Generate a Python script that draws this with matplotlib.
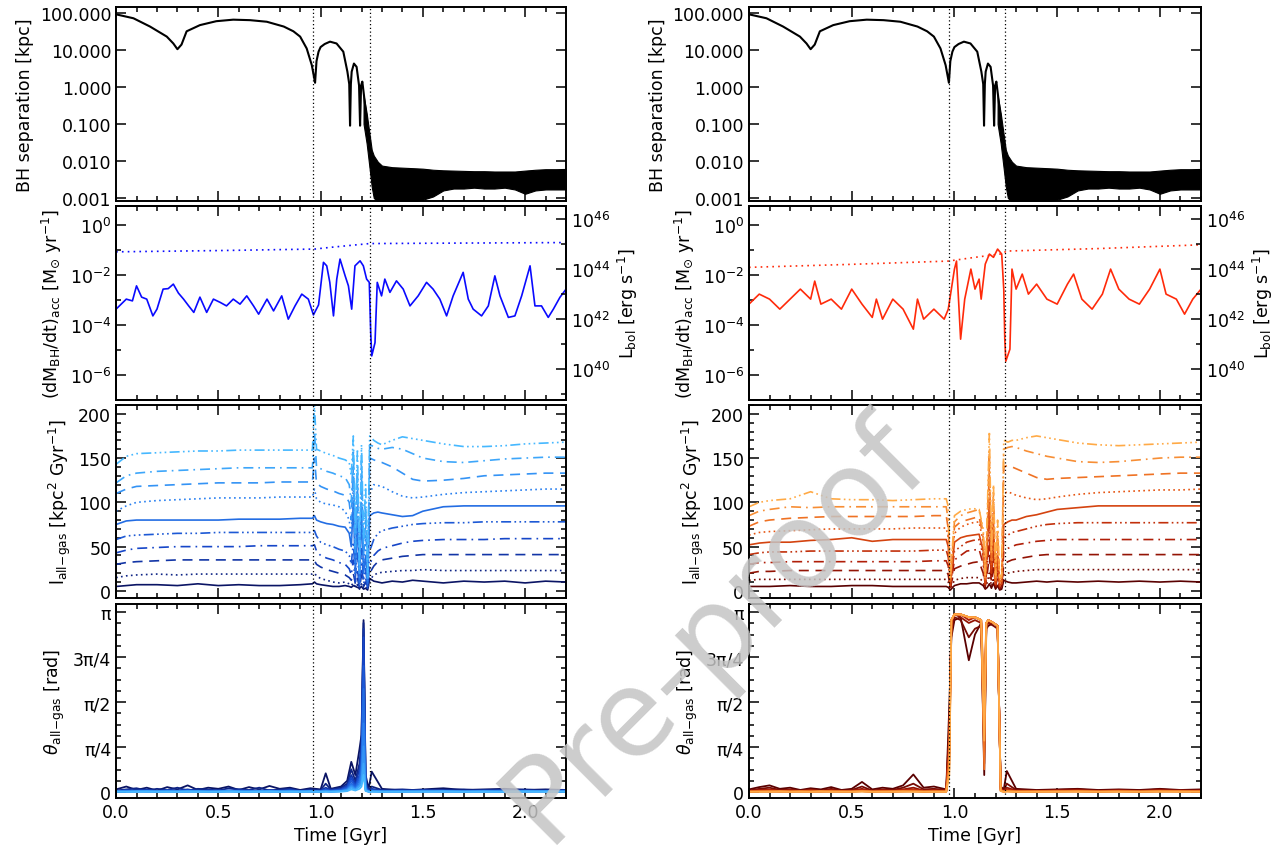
import numpy as np
import matplotlib.pyplot as plt
from matplotlib.colors import LinearSegmentedColormap
from matplotlib.ticker import MultipleLocator, FixedLocator, NullFormatter, LogLocator

plt.rcParams['font.family'] = ['DejaVu Sans']
plt.rcParams['mathtext.fontset'] = 'dejavusans'
plt.rcParams['font.size'] = 12.5
plt.rcParams['axes.linewidth'] = 1.4

# ---------------- data ----------------
# BH separation [kpc]
t_sep = [0.0, 0.085, 0.166, 0.248, 0.28, 0.3, 0.32, 0.345, 0.41, 0.49, 0.573, 0.655, 0.737,
         0.82, 0.867, 0.9, 0.932, 0.957, 0.973, 0.98, 0.99, 1.0, 1.02, 1.046, 1.078, 1.111,
         1.131, 1.14, 1.144, 1.148, 1.152, 1.163, 1.176, 1.188, 1.193, 1.198, 1.204, 1.212, 1.225]
sep = [92, 72, 43, 23, 15, 10.5, 14, 32, 47, 60, 66, 64, 58,
       43, 32, 23, 11, 3.9, 1.3, 5, 9, 12, 14.5, 16.8, 15, 9,
       2.6, 1.2, 0.09, 1.2, 2.6, 4.3, 3.5, 1.1, 0.09, 1.1, 1.4, 0.6, 0.14]
# envelope of the unresolved binary orbit after the merger
t_band = [1.21, 1.225, 1.24, 1.25, 1.26, 1.28, 1.3, 1.35, 1.4, 1.45, 1.5, 1.55, 1.6, 1.65,
          1.7, 1.75, 1.8, 1.85, 1.9, 1.95, 2.0, 2.05, 2.1, 2.15, 2.2]
band_hi = [0.6, 0.2, 0.05, 0.02, 0.014, 0.0095, 0.0075, 0.0068, 0.0066, 0.0064, 0.0062, 0.0058,
           0.0056, 0.0055, 0.0054, 0.0053, 0.0053, 0.0052, 0.0052, 0.0052, 0.0055, 0.0058,
           0.0060, 0.0060, 0.0061]
band_lo = [0.1, 0.03, 0.006, 0.002, 0.001, 0.0008, 0.0008, 0.0008, 0.0008, 0.0008, 0.0009,
           0.0011, 0.0016, 0.0018, 0.0018, 0.0019, 0.0018, 0.0018, 0.0019, 0.0017, 0.0013,
           0.0016, 0.0017, 0.0017, 0.0017]

# accretion rate, log10 [Msun/yr]
t_acc_left = [0.0, 0.02, 0.05, 0.08, 0.1, 0.125, 0.15, 0.18, 0.2, 0.23,
              0.255, 0.28, 0.305, 0.33, 0.355, 0.38, 0.41, 0.443, 0.476, 0.509,
              0.54, 0.573, 0.606, 0.639, 0.672, 0.697, 0.738, 0.77, 0.81, 0.842,
              0.875, 0.908, 0.94, 0.965, 0.99, 1.014, 1.03, 1.045, 1.063, 1.079,
              1.095, 1.12, 1.136, 1.152, 1.168, 1.193, 1.209, 1.225, 1.238, 1.245,
              1.25, 1.266, 1.277, 1.298, 1.314, 1.339, 1.371, 1.404, 1.437, 1.477,
              1.518, 1.55, 1.583, 1.616, 1.648, 1.697, 1.722, 1.746, 1.787, 1.82,
              1.852, 1.877, 1.918, 1.95, 1.983, 2.024, 2.048, 2.08, 2.113, 2.138,
              2.17, 2.2]
mdot_left = [-3.37, -3.21, -2.97, -3.04, -2.44, -2.89, -2.97, -3.64, -3.37, -2.57,
             -2.55, -2.37, -2.73, -2.97, -3.24, -3.5, -2.89, -3.5, -2.97, -3.1,
             -3.24, -2.97, -3.17, -2.84, -3.24, -3.57, -2.97, -3.44, -2.84, -3.77,
             -3.24, -2.77, -2.97, -3.6, -3.2, -1.5, -1.64, -2.3, -3.64, -2.17,
             -1.37, -2.04, -2.44, -3.37, -1.64, -1.44, -1.64, -2.17, -2.3, -4.3,
             -5.24, -4.71, -2.3, -2.84, -2.17, -2.7, -2.24, -2.57, -3.24, -2.84,
             -2.3, -2.57, -2.97, -3.64, -2.84, -1.9, -2.97, -3.37, -3.64, -3.24,
             -2.04, -2.84, -3.7, -3.64, -2.84, -1.64, -3.24, -3.24, -3.7, -3.37,
             -2.9, -2.57]
t_acc_right = [0.0, 0.05, 0.1, 0.15, 0.2, 0.25, 0.3, 0.32, 0.35, 0.4,
               0.45, 0.5, 0.55, 0.6, 0.62, 0.65, 0.7, 0.75, 0.8, 0.82,
               0.85, 0.9, 0.95, 0.97, 1.0, 1.01, 1.03, 1.05, 1.08, 1.1,
               1.12, 1.13, 1.15, 1.17, 1.19, 1.21, 1.23, 1.24, 1.245, 1.25,
               1.27, 1.28, 1.3, 1.33, 1.36, 1.4, 1.45, 1.5, 1.55, 1.58,
               1.62, 1.67, 1.72, 1.76, 1.8, 1.85, 1.9, 1.95, 2.0, 2.03,
               2.08, 2.12, 2.16, 2.2]
mdot_right = [-3.17, -2.77, -2.97, -3.37, -2.97, -2.57, -2.97, -2.25, -3.17, -2.97,
              -3.37, -2.57, -3.17, -3.7, -2.97, -3.77, -2.97, -3.37, -4.17, -2.97,
              -3.77, -3.37, -3.77, -3.37, -1.77, -1.45, -4.57, -2.97, -1.77, -2.57,
              -2.17, -2.97, -1.57, -1.17, -1.3, -0.97, -1.17, -2.57, -4.57, -5.45,
              -4.97, -1.77, -2.57, -1.97, -2.77, -2.37, -2.97, -3.17, -2.37, -1.97,
              -2.97, -3.37, -2.77, -1.77, -2.57, -2.97, -3.17, -2.57, -1.77, -2.77,
              -2.97, -3.57, -2.97, -2.57]
# Eddington rate, log10 [Msun/yr]
t_edd_left = [0.0, 0.5, 0.97, 1.05, 1.15, 1.24, 1.7, 2.2]
edd_left = [-1.08, -1.03, -0.97, -0.9, -0.82, -0.75, -0.73, -0.71]
t_edd_right = [0.0, 0.5, 0.97, 1.1, 1.24, 1.25, 1.7, 2.2]
edd_right = [-1.7, -1.58, -1.45, -1.3, -1.15, -1.05, -0.95, -0.8]

# specific angular momentum of gas (10 shells) [kpc^2/Gyr]
t_am = [0.0, 0.05, 0.1, 0.2, 0.3, 0.4, 0.5, 0.6, 0.7, 0.8, 0.9,
        0.96, 0.97, 0.98, 1.0, 1.03, 1.06, 1.09, 1.12, 1.14,
        1.15, 1.16, 1.17, 1.18, 1.19, 1.2, 1.21, 1.22, 1.23, 1.24, 1.26, 1.28,
        1.3, 1.35, 1.4, 1.45, 1.5, 1.6, 1.7, 1.8, 1.9, 2.0, 2.1, 2.2]
am_left = [
    [5, 6, 7, 7, 6, 8, 6, 7, 6, 6, 7, 8, 10, 8, 7, 6, 5, 5, 6, 5,
     4, 6, 5, 4, 3, 5, 2, 3, 1, 14, 11, 10, 9, 11, 10, 12, 11, 9, 11, 10, 11, 9, 11, 10],
    [15, 17, 18, 19, 18, 19, 19, 19, 19, 19, 19, 19, 20, 17, 14, 12, 10, 9, 10, 8,
     6, 9, 4, 7, 2, 8, 3, 5, 2, 12, 18, 20, 21, 22, 23, 23, 24, 23, 23, 23, 23, 23, 23, 23],
    [30, 32, 33, 34, 35, 35, 35, 35, 35, 35, 35, 35, 34, 30, 27, 24, 22, 20, 18, 15,
     12, 20, 8, 15, 3, 18, 5, 10, 2, 20, 28, 33, 35, 37, 39, 40, 41, 41, 41, 41, 41, 41, 41, 41],
    [43, 46, 48, 49, 50, 50, 50, 50, 51, 51, 51, 51, 52, 45, 40, 37, 35, 32, 30, 25,
     18, 35, 10, 25, 5, 30, 8, 15, 3, 30, 40, 45, 48, 51, 54, 56, 57, 58, 58, 58, 59, 59, 59, 59],
    [58, 62, 63, 64, 65, 65, 66, 66, 66, 66, 66, 66, 68, 62, 55, 52, 50, 47, 45, 40,
     30, 55, 15, 45, 8, 50, 12, 25, 5, 45, 58, 65, 68, 71, 73, 75, 76, 77, 77, 78, 78, 78, 78, 78],
    [75, 79, 80, 80, 80, 80, 80, 81, 81, 81, 82, 82, 85, 80, 78, 76, 75, 73, 72, 65,
     50, 100, 20, 80, 10, 90, 20, 40, 8, 85, 88, 89, 88, 86, 84, 85, 90, 95, 96, 96, 96, 96, 96, 96],
    [90, 96, 100, 102, 103, 104, 105, 105, 105, 106, 106, 106, 115, 104, 100, 98, 97, 95, 90, 80,
     60, 120, 30, 100, 15, 110, 30, 60, 10, 110, 120, 119, 118, 112, 107, 105, 106, 109, 111, 112, 113, 114, 115, 115],
    [110, 115, 118, 119, 120, 121, 122, 122, 122, 123, 123, 123, 150, 122, 118, 115, 113, 110, 108, 100,
     80, 140, 40, 120, 20, 130, 40, 80, 10, 150, 148, 146, 145, 140, 133, 126, 124, 125, 127, 130, 131, 132, 133, 133],
    [122, 130, 133, 135, 136, 137, 138, 139, 139, 139, 139, 139, 180, 140, 138, 135, 133, 130, 128, 120,
     100, 160, 50, 140, 25, 150, 50, 100, 15, 165, 163, 161, 160, 162, 160, 155, 150, 146, 145, 147, 149, 150, 151, 151],
    [143, 152, 155, 156, 157, 158, 158, 159, 159, 159, 159, 159, 210, 160, 158, 155, 153, 150, 148, 145,
     130, 175, 70, 160, 30, 165, 60, 120, 20, 175, 170, 167, 165, 170, 174, 172, 170, 166, 163, 163, 164, 166, 167, 168],
]
am_right = [
    [5, 5, 5, 6, 5, 5, 6, 6, 5, 5, 5, 5, 4, 1, 6, 8, 8, 9, 9, 6,
     2, 4, 8, 3, 9, 2, 6, 1, 2, 12, 10, 9, 9, 10, 11, 10, 11, 10, 11, 10, 11, 10, 11, 10],
    [12, 13, 13, 13, 13, 13, 13, 13, 13, 13, 13, 13, 10, 2, 12, 14, 15, 15, 15, 10,
     3, 10, 20, 5, 15, 3, 8, 2, 3, 18, 20, 21, 22, 23, 24, 24, 24, 24, 24, 24, 24, 24, 24, 24],
    [20, 22, 22, 23, 23, 23, 23, 23, 23, 23, 23, 23, 18, 3, 25, 28, 30, 32, 33, 20,
     5, 20, 40, 10, 30, 5, 15, 3, 5, 30, 33, 35, 36, 38, 40, 41, 41, 41, 41, 41, 41, 41, 41, 41],
    [30, 32, 32, 33, 33, 33, 33, 33, 33, 33, 34, 34, 28, 4, 35, 40, 45, 46, 47, 30,
     6, 30, 60, 15, 45, 6, 20, 4, 6, 45, 48, 50, 52, 54, 56, 57, 58, 58, 58, 58, 58, 58, 58, 58],
    [41, 43, 44, 44, 45, 45, 45, 45, 45, 45, 46, 46, 38, 5, 45, 50, 55, 57, 58, 40,
     7, 40, 80, 20, 60, 7, 30, 5, 7, 60, 63, 66, 67, 70, 73, 75, 76, 77, 77, 77, 77, 77, 77, 77],
    [52, 54, 55, 55, 57, 58, 60, 56, 58, 58, 58, 58, 50, 6, 55, 60, 62, 63, 64, 45,
     8, 50, 100, 25, 75, 8, 40, 6, 8, 75, 78, 80, 80, 84, 86, 89, 92, 94, 96, 96, 96, 96, 96, 96],
    [63, 66, 67, 68, 69, 70, 70, 70, 70, 71, 71, 71, 60, 8, 65, 72, 75, 77, 78, 55,
     10, 60, 120, 30, 90, 10, 50, 8, 10, 110, 112, 110, 108, 105, 103, 104, 106, 109, 111, 112, 113, 114, 114, 115],
    [73, 78, 80, 82, 83, 84, 84, 84, 84, 84, 85, 85, 70, 10, 72, 78, 80, 82, 84, 60,
     12, 70, 140, 35, 100, 12, 60, 10, 12, 140, 142, 140, 138, 133, 128, 126, 127, 128, 129, 130, 131, 132, 133, 133],
    [85, 90, 92, 95, 94, 95, 95, 95, 95, 95, 95, 95, 80, 12, 78, 85, 88, 90, 92, 65,
     15, 80, 160, 40, 110, 15, 70, 12, 15, 160, 162, 163, 162, 158, 155, 152, 150, 146, 145, 146, 148, 150, 151, 151],
    [95, 100, 102, 104, 112, 104, 103, 103, 102, 103, 104, 104, 95, 15, 85, 90, 92, 93, 92, 70,
     18, 90, 180, 45, 120, 18, 80, 15, 18, 170, 168, 170, 170, 173, 175, 173, 171, 167, 165, 164, 165, 166, 167, 168],
]

# misalignment angle [rad]
t_th_left = [0.0, 0.05, 0.1, 0.15, 0.2, 0.25, 0.3, 0.35, 0.4, 0.45, 0.5, 0.55, 0.6, 0.65, 0.7,
             0.75, 0.8, 0.85, 0.9, 0.95,
             1.0, 1.025, 1.05, 1.1, 1.13, 1.15, 1.17, 1.19, 1.2, 1.21, 1.22, 1.235, 1.25,
             1.3, 1.4, 1.5, 1.6, 1.7, 1.8, 1.9, 2.0, 2.1, 2.2]
th_left = [
    [0.05, 0.10, 0.04, 0.08, 0.03, 0.09, 0.05, 0.12, 0.04, 0.08, 0.06, 0.10, 0.04, 0.09, 0.05,
     0.11, 0.06, 0.08, 0.04, 0.07, 0.05, 0.33, 0.06, 0.10, 0.20, 0.53, 0.30, 0.75, 1.0, 3.0,
     0.3, 0.06, 0.36, 0.06, 0.03, 0.05, 0.07, 0.04, 0.05, 0.06, 0.04, 0.05, 0.04],
    [0.03, 0.05, 0.07, 0.03, 0.06, 0.04, 0.08, 0.03, 0.06, 0.05, 0.03, 0.07, 0.05, 0.04, 0.08,
     0.03, 0.05, 0.06, 0.03, 0.05, 0.04, 0.15, 0.05, 0.08, 0.15, 0.40, 0.20, 0.50, 0.90, 2.95,
     0.20, 0.04, 0.10, 0.04, 0.05, 0.03, 0.04, 0.05, 0.03, 0.04, 0.05, 0.03, 0.04],
    [0.02, 0.04, 0.03, 0.05, 0.02, 0.04, 0.03, 0.05, 0.02, 0.03, 0.04, 0.02, 0.05, 0.03, 0.02,
     0.04, 0.03, 0.05, 0.02, 0.03, 0.03, 0.08, 0.04, 0.06, 0.12, 0.30, 0.15, 0.40, 0.80, 2.85,
     0.15, 0.03, 0.06, 0.03, 0.02, 0.04, 0.03, 0.02, 0.03, 0.04, 0.02, 0.03, 0.03],
    [0.02, 0.03, 0.02, 0.03, 0.02, 0.03, 0.02, 0.04, 0.02, 0.03, 0.02, 0.03, 0.02, 0.03, 0.02,
     0.03, 0.02, 0.03, 0.02, 0.03, 0.02, 0.05, 0.03, 0.05, 0.10, 0.25, 0.12, 0.30, 0.60, 2.70,
     0.10, 0.02, 0.04, 0.02, 0.03, 0.02, 0.03, 0.02, 0.03, 0.02, 0.03, 0.02, 0.03],
    [0.02, 0.02, 0.03, 0.02, 0.02, 0.03, 0.02, 0.02, 0.03, 0.02, 0.02, 0.03, 0.02, 0.02, 0.03,
     0.02, 0.02, 0.03, 0.02, 0.02, 0.02, 0.04, 0.02, 0.04, 0.08, 0.20, 0.10, 0.25, 0.50, 2.20,
     0.08, 0.02, 0.03, 0.02, 0.02, 0.03, 0.02, 0.02, 0.02, 0.03, 0.02, 0.02, 0.02],
    [0.01, 0.02, 0.01, 0.02, 0.01, 0.02, 0.01, 0.02, 0.01, 0.02, 0.01, 0.02, 0.01, 0.02, 0.01,
     0.02, 0.01, 0.02, 0.01, 0.02, 0.01, 0.03, 0.02, 0.03, 0.06, 0.15, 0.08, 0.20, 0.40, 1.80,
     0.06, 0.01, 0.02, 0.02, 0.01, 0.02, 0.01, 0.02, 0.01, 0.02, 0.01, 0.02, 0.01],
    [0.02, 0.01, 0.02, 0.01, 0.02, 0.01, 0.02, 0.01, 0.02, 0.01, 0.02, 0.01, 0.02, 0.01, 0.02,
     0.01, 0.02, 0.01, 0.02, 0.01, 0.01, 0.02, 0.01, 0.02, 0.05, 0.12, 0.06, 0.15, 0.30, 1.20,
     0.05, 0.01, 0.02, 0.01, 0.02, 0.01, 0.02, 0.01, 0.02, 0.01, 0.02, 0.01, 0.02],
    [0.01, 0.01, 0.02, 0.01, 0.01, 0.02, 0.01, 0.01, 0.02, 0.01, 0.01, 0.02, 0.01, 0.01, 0.02,
     0.01, 0.01, 0.02, 0.01, 0.01, 0.01, 0.02, 0.01, 0.02, 0.04, 0.10, 0.05, 0.12, 0.20, 0.80,
     0.04, 0.01, 0.02, 0.01, 0.01, 0.02, 0.01, 0.01, 0.02, 0.01, 0.01, 0.02, 0.01],
    [0.01, 0.01, 0.01, 0.02, 0.01, 0.01, 0.01, 0.02, 0.01, 0.01, 0.01, 0.02, 0.01, 0.01, 0.01,
     0.02, 0.01, 0.01, 0.01, 0.02, 0.01, 0.01, 0.01, 0.02, 0.03, 0.08, 0.04, 0.10, 0.15, 0.50,
     0.03, 0.01, 0.01, 0.01, 0.01, 0.01, 0.02, 0.01, 0.01, 0.01, 0.02, 0.01, 0.01],
    [0.01, 0.01, 0.01, 0.01, 0.01, 0.01, 0.01, 0.01, 0.01, 0.01, 0.01, 0.01, 0.01, 0.01, 0.01,
     0.01, 0.01, 0.01, 0.01, 0.01, 0.01, 0.01, 0.01, 0.01, 0.02, 0.05, 0.03, 0.06, 0.10, 0.30,
     0.02, 0.01, 0.01, 0.01, 0.01, 0.01, 0.01, 0.01, 0.01, 0.01, 0.01, 0.01, 0.01],
]
t_th_right = [0.0, 0.05, 0.1, 0.15, 0.2, 0.25, 0.3, 0.35, 0.4, 0.45, 0.5, 0.55, 0.6, 0.65, 0.7,
              0.75, 0.8, 0.85, 0.9,
              0.96, 0.975, 0.985, 1.0, 1.03, 1.07, 1.1, 1.13, 1.145, 1.155, 1.165, 1.19, 1.21,
              1.225, 1.24, 1.255,
              1.3, 1.4, 1.5, 1.6, 1.7, 1.8, 1.9, 2.0, 2.1, 2.2]
th_right = [
    [0.05, 0.09, 0.12, 0.06, 0.08, 0.04, 0.07, 0.05, 0.09, 0.04, 0.06, 0.18, 0.05, 0.08, 0.06,
     0.12, 0.31, 0.08, 0.10, 0.05, 1.5, 2.7, 3.0, 3.05, 2.3, 2.75, 2.95, 0.3, 2.85, 2.9, 2.95,
     2.9, 0.1, 0.05, 0.37, 0.06, 0.04, 0.05, 0.06, 0.04, 0.05, 0.04, 0.06, 0.04, 0.05],
    [0.03, 0.06, 0.08, 0.04, 0.05, 0.03, 0.05, 0.03, 0.06, 0.03, 0.04, 0.10, 0.03, 0.05, 0.04,
     0.08, 0.15, 0.05, 0.06, 0.04, 1.2, 2.8, 3.05, 3.0, 2.7, 2.85, 2.9, 0.5, 2.9, 2.95, 2.9,
     2.85, 0.08, 0.04, 0.15, 0.04, 0.03, 0.04, 0.05, 0.03, 0.04, 0.03, 0.05, 0.03, 0.04],
    [0.02, 0.04, 0.05, 0.03, 0.04, 0.02, 0.04, 0.02, 0.04, 0.02, 0.03, 0.06, 0.02, 0.04, 0.03,
     0.05, 0.08, 0.03, 0.04, 0.03, 1.0, 2.9, 3.1, 3.05, 2.95, 3.0, 2.95, 0.9, 2.9, 2.95, 2.95,
     2.9, 0.06, 0.03, 0.08, 0.03, 0.02, 0.03, 0.04, 0.02, 0.03, 0.02, 0.04, 0.02, 0.03],
    [0.02, 0.03, 0.04, 0.02, 0.03, 0.02, 0.03, 0.02, 0.03, 0.02, 0.02, 0.04, 0.02, 0.03, 0.02,
     0.04, 0.05, 0.02, 0.03, 0.02, 0.9, 2.95, 3.1, 3.1, 3.0, 3.05, 3.0, 1.2, 2.95, 3.0, 2.95,
     2.9, 0.05, 0.02, 0.05, 0.02, 0.02, 0.03, 0.02, 0.02, 0.03, 0.02, 0.02, 0.03, 0.02],
    [0.02, 0.02, 0.03, 0.02, 0.02, 0.02, 0.03, 0.02, 0.02, 0.02, 0.02, 0.03, 0.02, 0.02, 0.02,
     0.03, 0.04, 0.02, 0.02, 0.02, 0.8, 3.0, 3.1, 3.1, 3.05, 3.05, 3.0, 1.0, 2.95, 3.0, 2.95,
     2.9, 0.04, 0.02, 0.04, 0.02, 0.02, 0.02, 0.03, 0.02, 0.02, 0.02, 0.03, 0.02, 0.02],
    [0.01, 0.02, 0.02, 0.01, 0.02, 0.01, 0.02, 0.01, 0.02, 0.01, 0.02, 0.02, 0.01, 0.02, 0.01,
     0.02, 0.03, 0.01, 0.02, 0.02, 0.7, 3.0, 3.1, 3.1, 3.05, 3.05, 3.0, 0.7, 2.95, 3.0, 2.95,
     2.9, 0.04, 0.02, 0.03, 0.02, 0.01, 0.02, 0.02, 0.01, 0.02, 0.01, 0.02, 0.02, 0.01],
    [0.01, 0.02, 0.01, 0.02, 0.01, 0.02, 0.01, 0.02, 0.01, 0.02, 0.01, 0.02, 0.01, 0.02, 0.01,
     0.02, 0.02, 0.01, 0.02, 0.01, 0.6, 3.0, 3.1, 3.1, 3.05, 3.05, 3.0, 1.5, 2.95, 3.0, 2.95,
     2.9, 0.03, 0.01, 0.02, 0.01, 0.02, 0.01, 0.02, 0.01, 0.02, 0.01, 0.02, 0.01, 0.02],
    [0.01, 0.01, 0.02, 0.01, 0.01, 0.02, 0.01, 0.01, 0.02, 0.01, 0.01, 0.02, 0.01, 0.01, 0.02,
     0.01, 0.02, 0.01, 0.01, 0.01, 0.5, 3.0, 3.1, 3.1, 3.05, 3.05, 3.0, 0.4, 2.95, 3.0, 2.95,
     2.9, 0.03, 0.01, 0.02, 0.01, 0.01, 0.02, 0.01, 0.01, 0.02, 0.01, 0.01, 0.02, 0.01],
    [0.01, 0.01, 0.01, 0.02, 0.01, 0.01, 0.01, 0.02, 0.01, 0.01, 0.01, 0.02, 0.01, 0.01, 0.01,
     0.02, 0.01, 0.01, 0.01, 0.01, 0.4, 3.0, 3.1, 3.1, 3.05, 3.05, 3.0, 1.8, 2.95, 3.0, 2.95,
     2.9, 0.02, 0.01, 0.02, 0.01, 0.01, 0.01, 0.02, 0.01, 0.01, 0.01, 0.02, 0.01, 0.01],
    [0.01, 0.01, 0.01, 0.01, 0.01, 0.01, 0.01, 0.01, 0.01, 0.01, 0.01, 0.01, 0.01, 0.01, 0.01,
     0.01, 0.01, 0.01, 0.01, 0.01, 0.3, 3.0, 3.1, 3.1, 3.05, 3.05, 3.0, 0.9, 2.95, 3.0, 2.95,
     2.9, 0.02, 0.01, 0.01, 0.01, 0.01, 0.01, 0.01, 0.01, 0.01, 0.01, 0.01, 0.01, 0.01],
]

merger_times = [[0.965, 1.24], [0.975, 1.245]]

# ---------------- style ----------------
L_PER_MDOT = 45.75   # log10 of erg/s per Msun/yr (eps_r = 0.1)
styles = ['-', (0, (1, 2)), (0, (6, 4)), (0, (6, 3, 1, 3)), (0, (6, 2, 1, 2, 1, 2, 1, 2))]
cmap_blue = LinearSegmentedColormap.from_list('b', ['#0a1464', '#1646c8', '#2a80f0', '#46b8ff'])
cmap_red = LinearSegmentedColormap.from_list('r', ['#5a0000', '#b01e08', '#e65512', '#ffaa46'])
acc_colors = ['#0a0aff', '#ff2a0a']

fig = plt.figure(figsize=(12.74, 8.53), dpi=100)
lefts = [0.0911, 0.5879]
widths = [0.3532, 0.3548]
rows = [(0.7632, 0.2274), (0.5299, 0.2274), (0.2978, 0.2263), (0.0633, 0.2274)]


def style_ax(ax, right=True):
    ax.tick_params(which='both', direction='in', top=True, right=right, width=1.1)
    ax.tick_params(which='major', length=7)
    ax.tick_params(which='minor', length=3.5)
    ax.set_xlim(0, 2.2)
    ax.xaxis.set_major_locator(MultipleLocator(0.5))
    ax.xaxis.set_minor_locator(MultipleLocator(0.1))


for c in range(2):
    axs = [fig.add_axes([lefts[c], b, widths[c], h]) for b, h in rows]
    cmap = cmap_blue if c == 0 else cmap_red
    lcols = [cmap(i / 9) for i in range(10)]

    # row 1: BH separation
    ax = axs[0]
    ax.plot(t_sep, sep, color='k', lw=1.5)
    ax.fill_between(t_band, band_lo, band_hi, color='k', lw=0.8)
    ax.set_yscale('log')
    ax.set_ylim(8.3e-4, 1.45e2)
    yt = [1e-3, 1e-2, 1e-1, 1e0, 1e1, 1e2]
    ax.yaxis.set_major_locator(FixedLocator(yt))
    ax.set_yticklabels(['%.3f' % v for v in yt])
    ax.yaxis.set_minor_locator(LogLocator(base=10, subs=range(2, 10)))
    ax.yaxis.set_minor_formatter(NullFormatter())
    ax.set_ylabel('BH separation [kpc]')

    # row 2: accretion rate + bolometric luminosity
    ax = axs[1]
    if c == 0:
        ta, md, te, ed = t_acc_left, mdot_left, t_edd_left, edd_left
    else:
        ta, md, te, ed = t_acc_right, mdot_right, t_edd_right, edd_right
    ax.plot(ta, 10.0 ** np.array(md), color=acc_colors[c], lw=1.2)
    ax.plot(te, 10.0 ** np.array(ed), color=acc_colors[c], lw=1.2, ls=(0, (1, 2.5)))
    ax.set_yscale('log')
    ax.set_ylim(1e-7, 10 ** 0.75)
    ax.yaxis.set_major_locator(FixedLocator([1e0, 1e-2, 1e-4, 1e-6]))
    ax.set_yticklabels([r'10$^{0}$', r'10$^{-2}$', r'10$^{-4}$', r'10$^{-6}$'])
    ax.yaxis.set_minor_locator(FixedLocator([1e-1, 1e-3, 1e-5, 1e-7]))
    ax.yaxis.set_minor_formatter(NullFormatter())
    ax.set_ylabel(r'(dM$_{\rm BH}$/dt)$_{\rm acc}$ [M$_{\odot}$ yr$^{-1}$]')
    tw = ax.twinx()
    tw.set_yscale('log')
    tw.set_ylim(10 ** (-7 + L_PER_MDOT), 10 ** (0.75 + L_PER_MDOT))
    tw.yaxis.set_major_locator(FixedLocator([1e40, 1e42, 1e44, 1e46]))
    tw.set_yticklabels([r'10$^{40}$', r'10$^{42}$', r'10$^{44}$', r'10$^{46}$'])
    tw.yaxis.set_minor_locator(FixedLocator([1e39, 1e41, 1e43, 1e45]))
    tw.yaxis.set_minor_formatter(NullFormatter())
    tw.tick_params(which='both', direction='in', width=1.1)
    tw.tick_params(which='major', length=7)
    tw.tick_params(which='minor', length=3.5)
    tw.set_ylabel(r'L$_{\rm bol}$ [erg s$^{-1}$]')

    # row 3: angular momentum
    ax = axs[2]
    am = am_left if c == 0 else am_right
    for i in range(10):
        ax.plot(t_am, am[i], color=lcols[i], ls=styles[i % 5], lw=1.2)
    ax.set_ylim(-8, 210)
    ax.yaxis.set_major_locator(MultipleLocator(50))
    ax.yaxis.set_minor_locator(MultipleLocator(10))
    ax.set_ylabel(r'l$_{\rm all\!-\!gas}$ [kpc$^2$ Gyr$^{-1}$]')

    # row 4: misalignment angle
    ax = axs[3]
    tt, th = (t_th_left, th_left) if c == 0 else (t_th_right, th_right)
    for i in range(10):
        ax.plot(tt, th[i], color=lcols[i], lw=1.3)
    ax.set_ylim(-0.1, 3.28)
    ax.yaxis.set_major_locator(FixedLocator([0, np.pi / 4, np.pi / 2, 3 * np.pi / 4, np.pi]))
    ax.set_yticklabels(['0', 'π/4', 'π/2', '3π/4', 'π'])
    ax.yaxis.set_minor_locator(MultipleLocator(np.pi / 16))
    ax.set_ylabel(r'$\theta_{\rm all\!-\!gas}$ [rad]')
    ax.set_xlabel('Time [Gyr]')

    for k, ax in enumerate(axs):
        style_ax(ax, right=(k != 1))
        if k < 3:
            ax.tick_params(labelbottom=False)
        for tm in merger_times[c]:
            ax.axvline(tm, color='k', lw=0.9, ls=(0, (1, 2)))

fig.text(0.561, 0.262, 'Pre-proof', rotation=45, fontsize=86, color='#c4c4c4',
         alpha=0.85, ha='center', va='center', zorder=10)

fig.savefig('out.png', dpi=100)
